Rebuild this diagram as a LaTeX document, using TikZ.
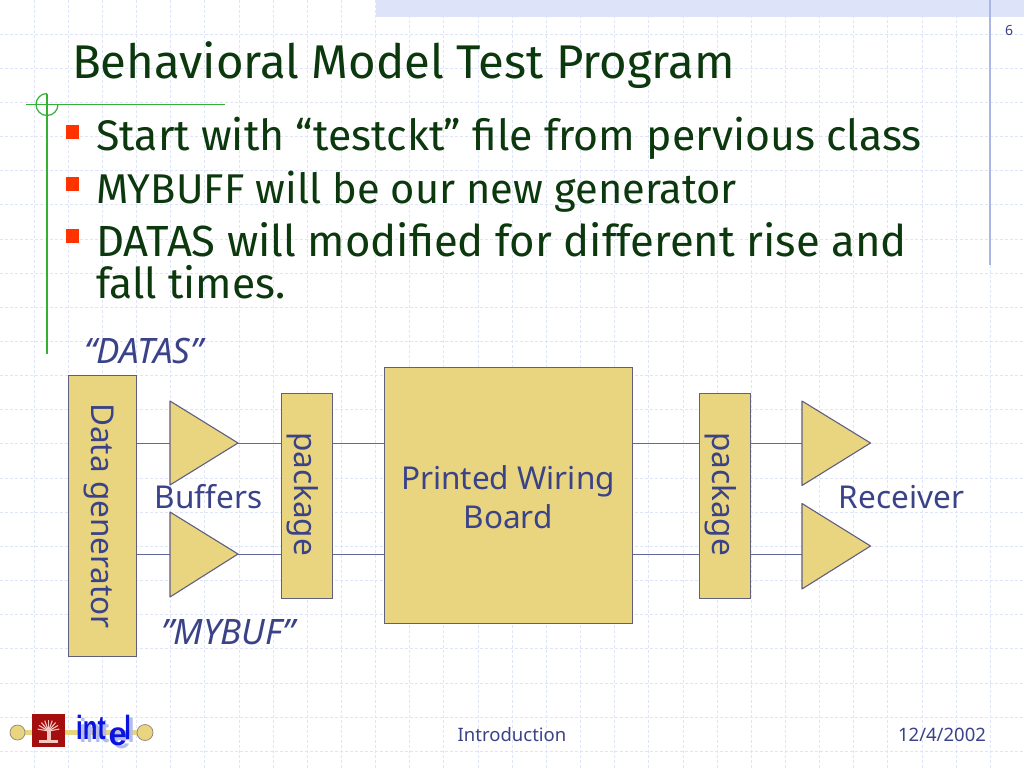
\documentclass[tikz,border=0pt]{standalone}
\usepackage{graphicx}
\usepackage{fontspec}
\setmainfont{Noto Sans}
\newfontfamily\comic{Fira Sans}
\newfontfamily\logofont{Liberation Sans}
\definecolor{grid}{HTML}{DFE5F8}
\definecolor{band}{HTML}{DDE4FA}
\definecolor{bluerule}{HTML}{A9B6E6}
\definecolor{ink}{HTML}{3A4288}
\definecolor{tealdark}{HTML}{0C380D}
\definecolor{greenrule}{HTML}{35B035}
\definecolor{sand}{HTML}{E9D480}
\definecolor{edge}{HTML}{5F5F80}
\definecolor{bulletred}{HTML}{FF3300}
\definecolor{logored}{HTML}{A50E0E}
\definecolor{logoblue}{HTML}{0A14E0}
\definecolor{logoshadow}{HTML}{B4BCEB}
\definecolor{crest}{HTML}{F5C6C0}
\tikzset{
  x=1pt,y=-1pt,
  box/.style={draw=edge,line width=1.4pt,fill=sand,inner sep=0pt,anchor=north west},
  tri/.style={draw=edge,line width=1.1pt,fill=sand,line join=round},
  wire/.style={draw=ink!80!white,line width=.9pt},
  lbl/.style={text=ink,font=\fontsize{31.5}{36}\selectfont,align=center,inner sep=0pt},
  lblit/.style={text=ink,font=\fontsize{35}{40}\selectfont\itshape,inner sep=0pt,anchor=west},
  rot/.style={lbl,rotate=-90},
  body/.style={text=tealdark,anchor=base west,inner sep=0pt,align=left},
  foot/.style={text=ink,font=\fontsize{18.5}{22}\selectfont,inner sep=0pt},
  bulletmark/.style={fill=bulletred,draw=none,minimum size=13.5pt,inner sep=0pt,anchor=north west},
}
\newcommand{\bodysize}[1]{\comic\fontsize{#1}{48}\selectfont}
\newcommand{\intelword}{\scalebox{1}[1.4]{int}\hspace{3pt}\raisebox{-6pt}{\fontsize{33}{33}\selectfont e}\hspace{-2.5pt}\scalebox{1}[1.4]{l}}
\begin{document}
\begin{tikzpicture}
\useasboundingbox (0,0) rectangle (1024,768);
\fill[white] (0,0) rectangle (1024,768);
% grid
\foreach \i in {1,...,29}{\draw[grid,line width=1pt,densely dashed] ({\i*34.15},0) -- ({\i*34.15},768);}
\foreach \i in {1,...,22}{\draw[grid,line width=1pt,densely dashed] (0,{\i*34.15}) -- (1024,{\i*34.15});}
% top band
\fill[band] (376,0) rectangle (1024,17);
\draw[bluerule,line width=1.4pt] (990,0) -- (990,265);
\node[text=ink,font=\fontsize{14}{16}\selectfont,inner sep=0pt] (pagenum) at (1009,31) {6};
% green marks
\draw[greenrule,line width=1.2pt] (26,104.5) -- (225,104.5);
\draw[greenrule,line width=1.2pt] (47,94) -- (47,354);
\draw[greenrule,line width=1.2pt] (47,93.5) arc[start angle=-90,end angle=-360,radius=11];
% title
\node[text=tealdark,font=\comic\fontsize{47.3}{52}\selectfont,anchor=base west,inner sep=0pt] (title) at (72,78) {Behavioral Model Test Program};
% bullets
\node[bulletmark] (b1) at (65.5,125) {};
\node[bulletmark] (b2) at (65.5,177) {};
\node[bulletmark] (b3) at (65.5,229) {};
\node[body,font=\bodysize{42.8}] (t1) at (96,150) {Start with “testckt” file from pervious class};
\node[body,font=\bodysize{41.6}] (t2) at (96,203) {MYBUFF will be our new generator};
\node[body,font=\bodysize{43.6}] (t3) at (96,256) {DATAS will modified for different rise and};
\node[body,font=\bodysize{42.5}] (t3b) at (96,298) {fall times.};
% diagram blocks
\node[box,minimum width=68pt,minimum height=281pt] (gen) at (68,375) {};
\node[box,minimum width=51pt,minimum height=205pt] (pk1) at (281,392.5) {};
\node[box,minimum width=247.5pt,minimum height=256pt] (pwb) at (384,367) {};
\node[box,minimum width=51pt,minimum height=205pt] (pk2) at (699,392.5) {};
\coordinate (t1in) at (170,443);
\coordinate (t1out) at (238,443);
\coordinate (t2in) at (170,554);
\coordinate (t2out) at (238,554);
\coordinate (r1in) at (802,443);
\coordinate (r2in) at (802,546);
% wires
\draw[wire] (gen.east |- t1in) -- (t1in);
\draw[wire] (gen.east |- t2in) -- (t2in);
\draw[wire] (t1out) -- (pk1.west |- t1out);
\draw[wire] (t2out) -- (pk1.west |- t2out);
\draw[wire] (pk1.east |- t1out) -- (pwb.west |- t1out);
\draw[wire] (pk1.east |- t2out) -- (pwb.west |- t2out);
\draw[wire] (pwb.east |- t1out) -- (pk2.west |- t1out);
\draw[wire] (pwb.east |- t2out) -- (pk2.west |- t2out);
\draw[wire] (pk2.east |- r1in) -- (r1in);
\draw[wire] (pk2.east |- t2out) -- (802,554);
% triangles
\draw[tri] (170,401) -- (238,443) -- (170,485) -- cycle;
\draw[tri] (170,512) -- (238,554) -- (170,597) -- cycle;
\draw[tri] (802,401) -- (870.5,443) -- (802,485.5) -- cycle;
\draw[tri] (802,503.5) -- (870.5,546) -- (802,589) -- cycle;
% labels
\node[lblit] (datas) at (84,351) {“DATAS”};
\node[lblit] (mybuf) at (161,632) {"MYBUF”};
\node[rot] (gentx) at (99,516) {Data generator};
\node[rot] (pk1tx) at (303,494) {package};
\node[rot] (pk2tx) at (721,494) {package};
\node[lbl] (buffers) at (208.5,497) {Buffers};
\node[lbl] (pwbtx) at (508,497) {Printed Wiring\\[3pt]Board};
\node[lbl] (recv) at (901.5,497) {Receiver};
% footer
\node[foot] (intro) at (512,735) {Introduction};
\node[foot] (date) at (942,735) {12/4/2002};
% logo
\draw[line width=4.5pt,draw=sand] (18,732.5) -- (145,732.5);
\fill[sand,draw=edge!60!sand,line width=.8pt] (17.5,732.5) circle (7.5pt);
\fill[sand,draw=edge!60!sand,line width=.8pt] (145,732.5) circle (8pt);
\fill[logored] (32,714) rectangle (65,747);
\foreach \a in {-170,-150,...,-10}{\draw[crest,line width=1.1pt] (48.5,731) -- ++(\a:11);}
\fill[crest] (46.5,729) rectangle (50.5,741);
\fill[crest] (39,739.5) rectangle (58,743);
\node[font=\logofont\bfseries\fontsize{24}{30}\selectfont,anchor=base west,inner sep=0pt] (intel) at (76,739) {\makebox[0pt][l]{\hspace{3.5pt}\raisebox{-3.5pt}{\textcolor{logoshadow}{\intelword}}}\textcolor{logoblue}{\intelword}};
\end{tikzpicture}
\end{document}
